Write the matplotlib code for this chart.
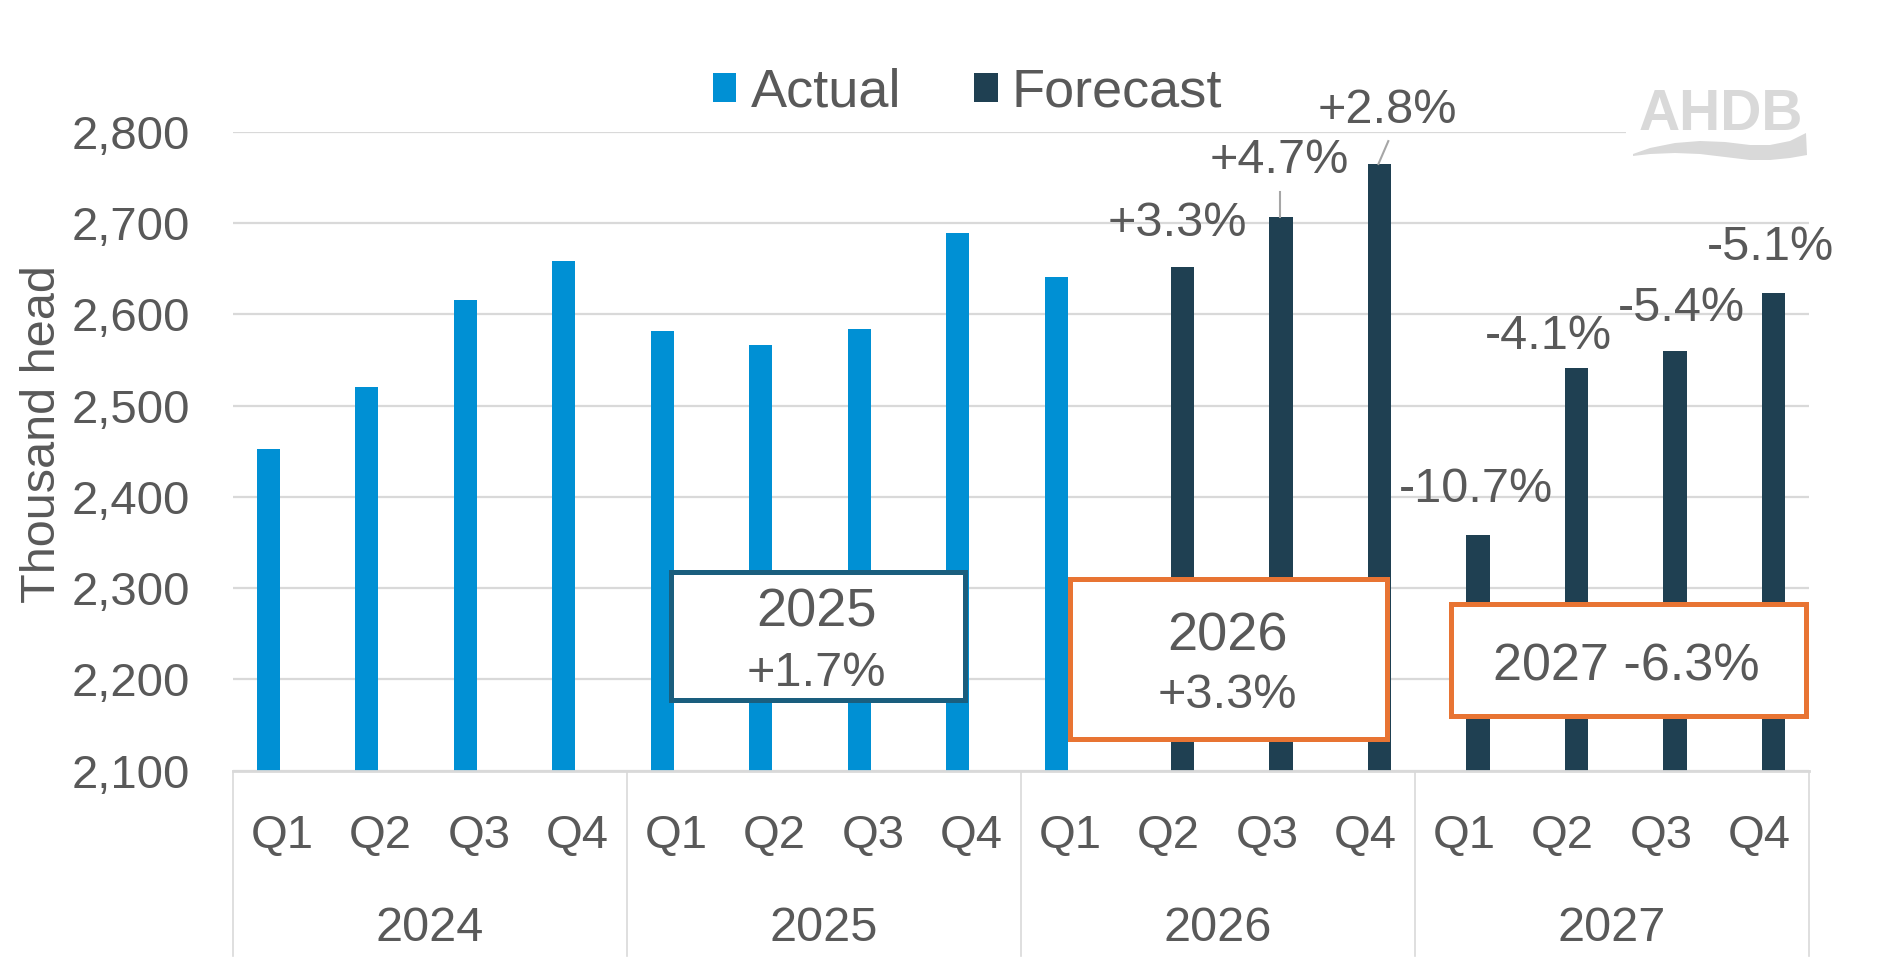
import numpy as np
import matplotlib
matplotlib.use("Agg")
import matplotlib.pyplot as plt
import matplotlib.transforms as mtransforms
from matplotlib.patches import Rectangle, Polygon

plt.rcParams['font.family'] = ['Liberation Sans', 'DejaVu Sans']

# data (thousand head)
years = ['2024', '2025', '2026', '2027']
quarters = ['Q1', 'Q2', 'Q3', 'Q4']
actual = [2452, 2520, 2616, 2659, 2582, 2566, 2584, 2689, 2641]      # 2024 Q1 - 2026 Q1
forecast = [2652, 2707, 2765, 2358, 2541, 2560, 2624]                  # 2026 Q2 - 2027 Q4
change_labels = ['+3.3%', '+4.7%', '+2.8%', '-10.7%', '-4.1%', '-5.4%', '-5.1%']
annual_years = ['2025', '2026', '2027']
annual_change = ['+1.7%', '+3.3%', '-6.3%']
yticks = [2100, 2200, 2300, 2400, 2500, 2600, 2700, 2800]

grey_txt = '#595959'
grid_col = '#D9D9D9'
c_actual = '#0090D4'
c_fcast = '#1F4052'
c_orange = '#E87433'
c_teal = '#1A5E7E'

W, H = 1884, 974
fig = plt.figure(figsize=(W / 100, H / 100), dpi=100)
ax = fig.add_axes([232.9 / W, (H - 770.5) / H, 1576 / W, 638.5 / H])

n = len(years) * len(quarters)
x = np.arange(n)
x_act = x[:len(actual)]
x_fc = x[len(actual):]
bw = 0.235
off = 0.14

ax.bar(x_act - off, actual, width=bw, color=c_actual, label='Actual', zorder=2)
ax.bar(x_fc + off, forecast, width=bw, color=c_fcast, label='Forecast', zorder=2)

ax.set_xlim(-0.5, n - 0.5)
ax.set_ylim(yticks[0], yticks[-1])
ax.set_yticks(yticks)
ax.set_yticklabels([f'{v:,}' for v in yticks])
ax.set_xticks(x)
ax.set_xticklabels(quarters * len(years))
ax.tick_params(axis='y', length=0, pad=31, labelsize=34, labelcolor=grey_txt)
ax.tick_params(axis='x', length=0, pad=31, labelsize=34, labelcolor=grey_txt)
ax.grid(axis='y', color=grid_col, lw=1.6, zorder=0)
ax.set_axisbelow(True)
for s in ['top', 'right', 'left']:
    ax.spines[s].set_visible(False)
ax.spines['bottom'].set_color(grid_col)
ax.spines['bottom'].set_linewidth(2)

ax.set_ylabel('Thousand head', fontsize=35, color=grey_txt, va='center')
ax.yaxis.set_label_coords(-0.1209, 0.527)

# second level of category axis
trans = mtransforms.blended_transform_factory(ax.transData, ax.transAxes)
for i in range(len(years) + 1):
    xs = i * 4 - 0.5
    ax.plot([xs, xs], [0, -0.29], transform=trans, color=grid_col, lw=1.2, clip_on=False)
for i, yr in enumerate(years):
    ax.text(i * 4 + 1.5, -0.2467, yr, transform=trans, ha='center', va='center',
            fontsize=35, color=grey_txt)

# change labels on forecast bars
label_offsets = [(-0.05, 48), (-0.02, 62), (0.08, 59), (-0.02, 50), (-0.28, 35), (0.07, 47), (-0.03, 49)]
for xi, v, lab, (dx, dy) in zip(x_fc + off, forecast, change_labels, label_offsets):
    ax.text(xi + dx, v + dy, lab, ha='center', va='center', fontsize=35,
            color=grey_txt, zorder=5, clip_on=False)
# leader lines
ax.plot([x_fc[1] + off - 0.01, x_fc[1] + off - 0.01], [forecast[1], forecast[1] + 27],
        color='#A6A6A6', lw=1.5, zorder=3)
ax.plot([x_fc[2] + off - 0.01, x_fc[2] + off + 0.09], [forecast[2], forecast[2] + 25],
        color='#A6A6A6', lw=1.5, zorder=3)

# annual summary boxes
boxes = [(3.95, 2177, 2.98, 141, c_teal), (8.0, 2135, 3.22, 175, c_orange),
         (11.87, 2160, 3.6, 123, c_orange)]
for (bx, by, bwid, bh, ec) in boxes:
    ax.add_patch(Rectangle((bx, by), bwid, bh, facecolor='white', edgecolor=ec,
                           lw=3.6, zorder=4))
ax.text(5.42, 2273, annual_years[0], ha='center', va='center', fontsize=39, color=grey_txt, zorder=5)
ax.text(5.42, 2206, annual_change[0], ha='center', va='center', fontsize=35, color=grey_txt, zorder=5)
ax.text(9.6, 2247, annual_years[1], ha='center', va='center', fontsize=39, color=grey_txt, zorder=5)
ax.text(9.6, 2182, annual_change[1], ha='center', va='center', fontsize=35, color=grey_txt, zorder=5)
ax.text(13.65, 2213, annual_years[2] + ' ' + annual_change[2], ha='center', va='center',
        fontsize=37.5, color=grey_txt, zorder=5)

# legend
fig.legend(loc='center', bbox_to_anchor=(967.5 / W, 1 - 92.5 / H), ncol=2, frameon=False,
           fontsize=39, handlelength=0.44, handleheight=0.44, handletextpad=0.26,
           columnspacing=1.35, labelcolor=grey_txt)

# AHDB logo
fig.patches.append(Rectangle((1626 / W, 1 - 168 / H), (W - 1626) / W, 88 / H,
                             transform=fig.transFigure, facecolor='white', edgecolor='none'))
fig.text(1721 / W, 1 - 114.5 / H, 'AHDB', ha='center', va='center', fontsize=41,
         fontweight='bold', color='#D9D9D9')
sw = [(1633, 154), (1650, 148), (1675, 143), (1700, 141), (1725, 142), (1750, 145),
      (1770, 145), (1790, 141), (1806, 133), (1807, 155), (1790, 158), (1770, 160),
      (1750, 160), (1725, 157), (1700, 154), (1675, 153), (1650, 154), (1633, 156)]
fig.patches.append(Polygon([(px / W, 1 - py / H) for px, py in sw], closed=True,
                           transform=fig.transFigure, facecolor='#D9D9D9', edgecolor='none'))

fig.savefig('out.png', dpi=100)
